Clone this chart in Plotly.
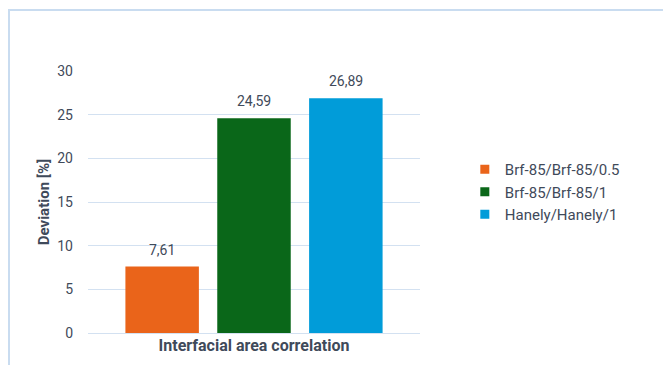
import plotly.graph_objects as go

category = ["Interfacial area correlation"]
series_names = ["Brf-85/Brf-85/0.5", "Brf-85/Brf-85/1", "Hanely/Hanely/1"]
series_values = [7.61, 24.59, 26.89]
series_colors = ["#EA641A", "#0A6719", "#019CD9"]
y_ticks = [0, 5, 10, 15, 20, 25, 30]

text_color = "#3F4A5A"
grid_color = "#D3E1F1"
font_family = "Roboto"

bargap = 0.17
n = len(series_values)
slot = (1 - bargap) / n

fig = go.Figure()
for i, (name, val, col) in enumerate(zip(series_names, series_values, series_colors)):
    fig.add_trace(go.Bar(
        x=category, y=[val], name=name, showlegend=False,
        marker=dict(color=col, line=dict(width=0)),
        hoverinfo="y",
    ))
    # value labels above the bars
    fig.add_annotation(
        x=(i - (n - 1) / 2) * slot, y=val, xref="x", yref="y",
        text=f"{val:.2f}".replace(".", ","), showarrow=False,
        yanchor="bottom", yshift=7,
        font=dict(size=14, color=text_color, family=font_family),
    )
for name, col in zip(series_names, series_colors):
    fig.add_trace(go.Scatter(
        x=[None], y=[None], mode="markers", name=name,
        marker=dict(symbol="square", size=9, color=col),
    ))

fig.update_layout(
    width=663, height=365,
    margin=dict(l=88, r=243, t=71, b=32),
    paper_bgcolor="white", plot_bgcolor="white",
    separators=",.",
    barmode="group", bargap=bargap, bargroupgap=0.2,
    font=dict(family=font_family, size=14, color=text_color),
    showlegend=True,
    legend=dict(x=1.135, y=0.538, xanchor="left", yanchor="middle",
                font=dict(size=15, color=text_color), tracegroupgap=0,
                itemwidth=30),
    xaxis=dict(showticklabels=False, showgrid=False, zeroline=False,
               type="category", range=[-0.5, 0.5],
               title=dict(text="<b>Interfacial area correlation</b>", standoff=6,
                          font=dict(size=16, color=text_color))),
    yaxis=dict(range=[0, 30], tickvals=y_ticks, showgrid=True, gridcolor=grid_color,
               gridwidth=1, zeroline=True, zerolinecolor=grid_color, zerolinewidth=1,
               ticks="", ticklabelstandoff=14,
               tickfont=dict(size=14, color=text_color),
               title=dict(text="<b>Deviation [%]</b>", standoff=4,
                          font=dict(size=15, color=text_color))),
    shapes=[dict(type="rect", xref="paper", yref="paper",
                 x0=(9 - 88) / 332, x1=(668 - 88) / 332,
                 y0=(333 - 370) / 262, y1=(333 - 10) / 262,
                 line=dict(color="#C9DCF0", width=2), fillcolor="rgba(0,0,0,0)", layer="below")],
)

fig.write_html("out.html")
